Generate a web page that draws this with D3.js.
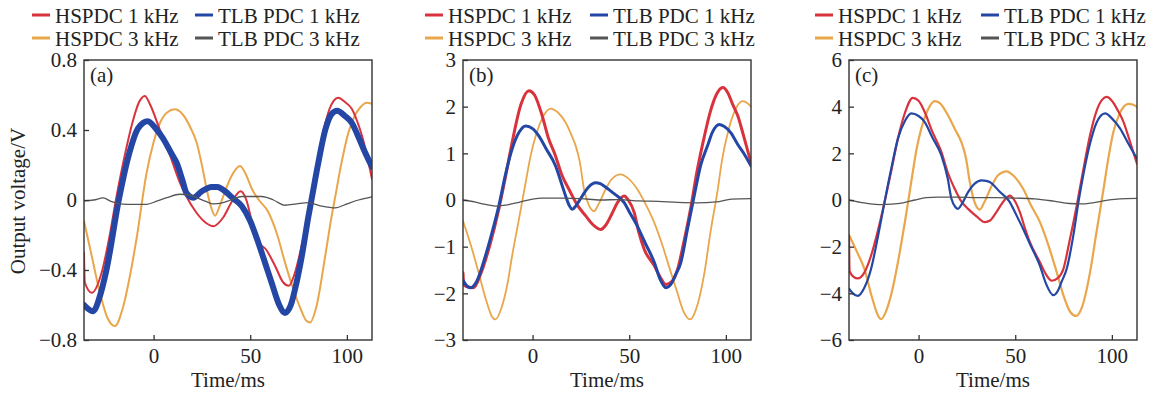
<!DOCTYPE html>
<html><head><meta charset="utf-8">
<script src="https://cdn.jsdelivr.net/npm/d3@7/dist/d3.min.js"></script>
<style>body{margin:0;background:#fff}svg{display:block}text{font-family:"Liberation Serif","Times New Roman",serif;fill:#222}</style>
</head><body><svg id="c" width="1156" height="396"></svg>
<script>
// ---------- data ----------
const seriesNames = ["HSPDC 1 kHz","TLB PDC 1 kHz","HSPDC 3 kHz","TLB PDC 3 kHz"];
const panelLabels = ["(a)","(b)","(c)"];
const xTicks = [0,50,100];
const yTicksA = [-0.8,-0.4,0,0.4,0.8];
const yTicksB = [-3,-2,-1,0,1,2,3];
const yTicksC = [-6,-4,-2,0,2,4,6];

const aRed = [[-36,-0.30],[-35.6,-0.47],[-32,-0.53],[-27,-0.42],[-23,-0.22],[-19.5,0],[-15,0.25],[-11,0.44],[-7.5,0.56],[-4.5,0.595],[-2,0.55],[3.3,0.40],[8,0.27],[13.6,0.10],[17,0.02],[22,-0.07],[27,-0.13],[31,-0.15],[36,-0.10],[41,0.0],[45,0.05],[48,0.0],[51,-0.13],[54,-0.24],[58,-0.28],[63,-0.38],[67,-0.47],[70,-0.49],[73,-0.42],[77,-0.24],[80,-0.07],[84,0.18],[87,0.35],[91,0.52],[95.5,0.585],[99,0.56],[102.6,0.52],[105,0.46],[108,0.36],[113,0.12]];
const aBlue = [[-36,-0.60],[-31.3,-0.635],[-27.8,-0.55],[-24.4,-0.40],[-18,0.0],[-13,0.25],[-8,0.41],[-3,0.45],[1,0.41],[5,0.35],[9,0.27],[12,0.21],[15,0.11],[17,0.04],[20.5,0.013],[25,0.05],[30,0.075],[33,0.075],[37,0.05],[41,0.01],[45.6,-0.034],[50,-0.12],[54.2,-0.244],[58,-0.37],[61,-0.47],[65,-0.6],[68,-0.645],[71,-0.6],[74,-0.47],[76.7,-0.32],[80,-0.1],[82,0.02],[85,0.2],[88.8,0.40],[92,0.49],[95,0.51],[99,0.48],[102.6,0.44],[106,0.36],[109.5,0.27],[113,0.19]];
const aOrange = [[-36,-0.12],[-32,-0.32],[-28,-0.52],[-24,-0.67],[-20,-0.72],[-16,-0.62],[-12,-0.42],[-8.8,-0.22],[-3.6,0.156],[0,0.33],[3.3,0.44],[7,0.5],[11,0.518],[15,0.49],[18.8,0.42],[22.3,0.327],[25,0.2],[27.5,0.06],[30,-0.05],[31.8,-0.09],[34,-0.04],[36,0.02],[40,0.13],[44.7,0.194],[48,0.14],[51,0.06],[54.2,0.004],[59.4,-0.07],[64,-0.2],[68,-0.358],[72,-0.5],[76,-0.62],[79,-0.69],[81,-0.70],[84,-0.62],[88.8,-0.32],[92,-0.1],[94,0.02],[97,0.2],[100.8,0.385],[104,0.48],[107,0.53],[110.3,0.556],[113,0.55]];
const aGray = [[-36,-0.005],[-31,0.0],[-26,0.012],[-22,-0.008],[-17.5,-0.022],[-10,-0.025],[-3.6,-0.025],[2,-0.005],[6.8,0.013],[13.6,0.033],[18,0.03],[22.3,0.013],[27,-0.008],[31,-0.022],[35,-0.018],[40,0.0],[45.6,0.02],[56,0.02],[62,0.0],[68,-0.03],[74,-0.022],[80,-0.015],[87,-0.035],[94,-0.045],[100,-0.022],[106,0.0],[113,0.018]];

const bRed = [[-36,-1.56],[-35.6,-1.82],[-33,-1.87],[-30.5,-1.88],[-27,-1.6],[-22,-0.95],[-17.5,-0.2],[-14,0.5],[-10.6,1.23],[-6,2.05],[-1.9,2.34],[1,2.25],[5,1.8],[8,1.35],[11.9,0.94],[15,0.55],[18.8,0.23],[23,-0.1],[27.5,-0.34],[31,-0.52],[35.3,-0.63],[38,-0.53],[41,-0.3],[44,-0.05],[47.4,0.086],[49.5,0.0],[52.6,-0.27],[55,-0.7],[57.8,-1.06],[63,-1.41],[66,-1.65],[69,-1.81],[72,-1.75],[75,-1.49],[78,-0.95],[82,-0.13],[85,0.6],[88.9,1.37],[92,1.9],[95,2.25],[98.4,2.41],[101,2.3],[103.5,2.05],[106.2,1.8],[109,1.4],[113,0.8]];
const bBlue = [[-36,-1.72],[-34,-1.84],[-32.2,-1.88],[-29,-1.75],[-24.4,-1.2],[-21,-0.7],[-17.5,-0.13],[-14,0.55],[-10.6,1.09],[-7,1.45],[-3.6,1.586],[0,1.53],[3.3,1.37],[7,1.1],[11.9,0.73],[15,0.35],[17.1,0.086],[19,-0.12],[20.5,-0.2],[22.5,-0.12],[25.7,0.086],[29,0.28],[32.6,0.37],[35,0.35],[37,0.3],[42,0.14],[47.4,-0.057],[50,-0.25],[54.2,-0.56],[58,-0.9],[63,-1.34],[66,-1.7],[69,-1.88],[72,-1.78],[74,-1.6],[76.7,-1.34],[80,-0.65],[83.6,0.086],[87,0.75],[90.5,1.16],[93,1.45],[96.6,1.62],[99,1.58],[102.6,1.44],[106,1.2],[110,0.95],[113,0.73]];
const bOrange = [[-36,-0.45],[-31,-1.1],[-27.9,-1.56],[-24,-2.15],[-21,-2.5],[-19.2,-2.56],[-16,-2.3],[-13,-1.8],[-10.6,-1.2],[-7,-0.4],[-3.6,0.37],[-1,0.95],[1.6,1.37],[5,1.75],[9.3,1.96],[13,1.88],[17.1,1.66],[20,1.4],[22.3,1.16],[24.5,0.8],[26.6,0.23],[29,-0.1],[31.8,-0.24],[34,-0.1],[37.8,0.23],[41,0.45],[45.6,0.55],[49,0.48],[54.2,0.23],[58,-0.05],[63,-0.49],[67,-0.95],[71.6,-1.56],[75,-2.0],[78,-2.38],[81.6,-2.56],[84.5,-2.35],[88.9,-1.56],[92,-0.7],[95.8,0.23],[98,0.85],[101,1.44],[104,1.85],[108.7,2.12],[111,2.08],[113,2.0]];
const bGray = [[-36,0.0],[-30,-0.04],[-25,-0.09],[-19,-0.13],[-14,-0.11],[-7,-0.05],[0,0.02],[5,0.04],[15,0.04],[25,0.03],[35,0.0],[45,0.01],[55,-0.02],[65,-0.03],[75,-0.05],[85,-0.06],[95,-0.04],[103,0.02],[113,0.03]];

const cRed = [[-36,-1.53],[-35.7,-3.05],[-33.5,-3.3],[-31.5,-3.36],[-28,-3.1],[-24.6,-2.39],[-21,-1.3],[-17.6,-0.09],[-14,1.3],[-10.7,2.63],[-7,3.75],[-3,4.38],[0,4.25],[3.1,3.78],[7,2.95],[11.8,2.06],[15,1.2],[18.7,0.48],[22,-0.05],[25.6,-0.38],[30,-0.7],[34.3,-0.95],[37,-0.88],[40,-0.55],[44,-0.05],[47.2,0.19],[49.5,0.0],[52.4,-0.52],[55,-1.2],[57.6,-1.81],[62.8,-2.67],[66,-3.2],[68.9,-3.46],[72,-3.35],[74.9,-2.96],[78,-1.8],[81.8,-0.24],[85,1.2],[88.7,2.77],[92,3.8],[95,4.3],[97.4,4.42],[100,4.25],[103,3.85],[106,3.35],[109,2.6],[113,1.55]];
const cBlue = [[-36,-3.8],[-34,-4.0],[-31.5,-4.11],[-28,-3.75],[-24.6,-2.96],[-21,-1.55],[-17.6,-0.09],[-14,1.4],[-10.7,2.63],[-7,3.4],[-3.8,3.71],[0,3.6],[3.1,3.35],[7,2.7],[11.8,1.91],[15,0.95],[17,0.05],[19,-0.3],[20.4,-0.38],[22.5,-0.15],[25.6,0.34],[29,0.7],[32.5,0.84],[35,0.82],[36.8,0.77],[42,0.35],[47.2,-0.09],[50,-0.55],[54.1,-1.24],[58,-1.95],[62.8,-2.82],[66,-3.6],[69.7,-4.08],[72,-3.9],[74,-3.5],[76.6,-2.96],[80,-1.55],[82.7,-0.09],[85.5,1.2],[88.7,2.42],[92,3.3],[96.5,3.71],[100,3.5],[104.3,3.06],[108,2.5],[113,1.77]];
const cOrange = [[-36,-1.5],[-32,-2.2],[-28,-2.96],[-24,-4.2],[-21,-4.95],[-19.4,-5.11],[-17,-4.8],[-14,-4.0],[-10.7,-2.67],[-7,-0.9],[-3.8,0.77],[-1,2.2],[1.4,3.06],[5,3.9],[8.3,4.24],[11,4.15],[15.2,3.63],[19,3.0],[22.1,2.49],[24.5,1.8],[26.5,0.77],[29,-0.1],[31.7,-0.41],[34,-0.1],[37.9,0.62],[41,1.05],[45.5,1.23],[49,1.05],[54.1,0.48],[58,-0.2],[62.8,-0.95],[67,-1.9],[71.5,-3.1],[75,-4.1],[78.5,-4.8],[81.5,-4.97],[84.5,-4.6],[88.7,-3.1],[92,-1.4],[95.7,0.48],[98,1.7],[100.8,2.92],[104,3.7],[108.6,4.12],[111,4.08],[113,3.99]];
const cGray = [[-36,0.0],[-30,-0.1],[-25,-0.17],[-20,-0.2],[-14,-0.18],[-8,-0.12],[-2,0.0],[4,0.1],[10,0.12],[20,0.12],[30,0.1],[40,0.1],[50,0.08],[60,0.05],[70,-0.05],[78,-0.15],[84,-0.17],[90,-0.12],[97,-0.02],[104,0.05],[113,0.07]];

// ---------- layout / style ----------
const colors = ["#d8333c","#2447a6","#e9a64b","#555555"];
const panels = [
  {label:panelLabels[0], x0:84, x1:372, yDomain:[-0.8,0.8], ticks:yTicksA, fmt:d=>d===0?"0":d3.format(".1f")(d).replace("-","\u2212"),
   data:[aRed,aBlue,aOrange,aGray], widths:[2,6,2,1.3], legX:[32,195], showY:true},
  {label:panelLabels[1], x0:463, x1:751, yDomain:[-3,3], ticks:yTicksB, fmt:d=>String(d).replace("-","\u2212"),
   data:[bRed,bBlue,bOrange,bGray], widths:[3,3,1.8,1.3], legX:[425,590], showY:false},
  {label:panelLabels[2], x0:849, x1:1137, yDomain:[-6,6], ticks:yTicksC, fmt:d=>String(d).replace("-","\u2212"),
   data:[cRed,cBlue,cOrange,cGray], widths:[2.2,2.2,2.2,1.3], legX:[815,981], showY:false}
];
const yTop = 60, yBot = 340, FS = 21;

const svg = d3.select("#c");
panels.forEach((p,i)=>{
  const x = d3.scaleLinear().domain([-36,113]).range([p.x0,p.x1]);
  const y = d3.scaleLinear().domain(p.yDomain).range([yBot,yTop]);
  const g = svg.append("g");
  const cid = "clip"+i;
  g.append("clipPath").attr("id",cid).append("rect")
    .attr("x",p.x0).attr("y",yTop).attr("width",p.x1-p.x0).attr("height",yBot-yTop);
  const line = d3.line().x(d=>x(d[0])).y(d=>y(d[1])).curve(d3.curveMonotoneX);
  const order = [2,0,1,3];
  order.forEach(k=>{
    g.append("path").attr("clip-path",`url(#${cid})`).attr("d",line(p.data[k]))
      .attr("fill","none").attr("stroke",colors[k]).attr("stroke-width",p.widths[k])
      .attr("stroke-linejoin","round").attr("stroke-linecap","round");
  });
  // frame
  g.append("rect").attr("x",p.x0).attr("y",yTop).attr("width",p.x1-p.x0).attr("height",yBot-yTop)
    .attr("fill","none").attr("stroke","#333").attr("stroke-width",1.4);
  // axes (inward ticks)
  const xa = g.append("g").attr("transform",`translate(0,${yBot})`)
    .call(d3.axisBottom(x).tickValues(xTicks).tickSizeInner(-5).tickSizeOuter(0).tickPadding(8));
  xa.select(".domain").remove();
  xa.selectAll("line").attr("stroke","#333").attr("stroke-width",1.3);
  xa.selectAll("text").attr("font-size",FS).attr("font-family","Liberation Serif").attr("fill","#222");
  const ya = g.append("g").attr("transform",`translate(${p.x0},0)`)
    .call(d3.axisLeft(y).tickValues(p.ticks).tickFormat(p.fmt).tickSizeInner(-5).tickSizeOuter(0).tickPadding(7));
  ya.select(".domain").remove();
  ya.selectAll("line").attr("stroke","#333").attr("stroke-width",1.3);
  ya.selectAll("text").attr("font-size",FS).attr("font-family","Liberation Serif").attr("fill","#222");
  // titles
  g.append("text").attr("x",(p.x0+p.x1)/2).attr("y",387).attr("text-anchor","middle")
    .attr("font-size",FS).text("Time/ms");
  if(p.showY){
    g.append("text").attr("transform",`translate(25,201) rotate(-90)`).attr("text-anchor","middle")
      .attr("font-size",FS).text("Output voltage/V");
  }
  g.append("text").attr("x",p.x0+6).attr("y",yTop+22).attr("font-size",FS).text(p.label);
  // legend
  seriesNames.forEach((name,k)=>{
    const col = k%2===0?0:1, row = k<2?0:1;
    const lx = p.legX[col], ly = row===0?15:38;
    g.append("line").attr("x1",lx).attr("x2",lx+18).attr("y1",ly).attr("y2",ly)
      .attr("stroke",colors[k]).attr("stroke-width",3);
    g.append("text").attr("x",lx+23).attr("y",ly+7.5).attr("font-size",FS).text(name);
  });
});
</script></body></html>
